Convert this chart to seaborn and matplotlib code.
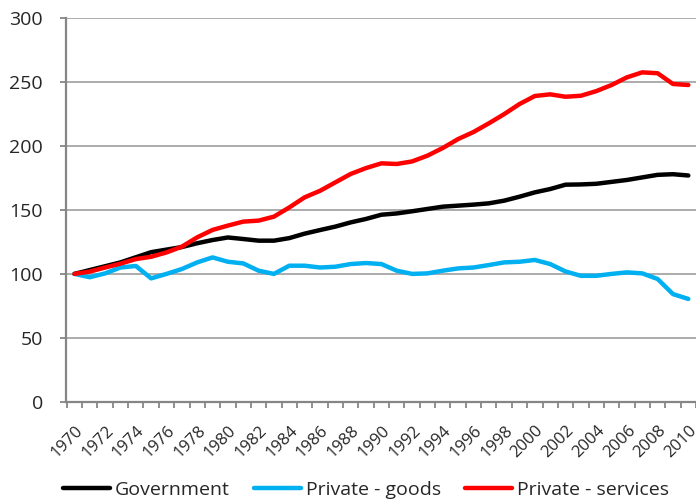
import numpy as np
import pandas as pd
import matplotlib
matplotlib.use('Agg')
import matplotlib.pyplot as plt
import matplotlib.transforms as mtransforms
import seaborn as sns

#-------------------
# data (index, 1970 = 100)
#-------------------

years = list(range(1970, 2011))

government = [100, 103, 106, 109, 113, 117, 119, 121, 124, 126.5,
              128.5, 127.3, 126, 126, 128, 131.5, 134.3, 137, 140.3, 143,
              146.3, 147.3, 149, 150.8, 152.6, 153.4, 154.2, 155.2, 157.3, 160.4,
              163.8, 166.4, 169.8, 170, 170.5, 172, 173.5, 175.5, 177.5, 178, 177]

private_goods = [100, 97.4, 100.4, 105, 106.2, 96.5, 100, 103.8, 109, 112.9,
                 109.5, 108.2, 102.5, 100, 106.4, 106.4, 105, 105.6, 107.7, 108.5,
                 107.7, 102.5, 100, 100.4, 102.5, 104.3, 105, 106.9, 109, 109.5,
                 110.9, 107.7, 101.9, 98.5, 98.5, 100, 101.2, 100.4, 96, 84.2, 80.4]

private_services = [100, 101.8, 105, 108, 111.6, 113.4, 116.8, 121.3, 128.6, 134.4,
                    137.8, 140.9, 141.7, 144.8, 152, 159.9, 165, 171.6, 178.2, 182.8,
                    186.5, 186, 188, 192.5, 198.5, 205.5, 211, 217.8, 225, 232.9,
                    239.2, 240.5, 238.6, 239.4, 243, 247.8, 253.8, 257.7, 257, 248.6, 247.8]

series_names = ['Government', 'Private - goods', 'Private - services']
series_colors = ['#000000', '#00b0f0', '#ff0000']

df = pd.DataFrame({
    'year': years * 3,
    'value': government + private_goods + private_services,
    'series': [series_names[0]] * len(years) + [series_names[1]] * len(years)
              + [series_names[2]] * len(years),
})

#-------------------
# plot
#-------------------

sns.set_style('white')
plt.rcParams['font.family'] = ['Open Sans', 'DejaVu Sans']
text_col = '#262626'
axis_col = '#868686'

fig = plt.figure(figsize=(6.96, 5.01), dpi=100)
ax = fig.add_axes([0.0948, 0.1982, 0.9052, 0.7653])

sns.lineplot(data=df, x='year', y='value', hue='series', hue_order=series_names,
             palette=series_colors, linewidth=3.2, ax=ax, legend=True)

ax.set_xlim(1969.45, 2010.2)
ax.set_ylim(0, 300)
ax.set_yticks(np.arange(0, 301, 50))
ax.grid(axis='y', color='#a6a6a6', linewidth=1.3)
ax.set_axisbelow(True)

ax.set_xlabel('')
ax.set_ylabel('')

for side in ['top', 'right']:
    ax.spines[side].set_visible(False)
for side in ['left', 'bottom']:
    ax.spines[side].set_color(axis_col)
    ax.spines[side].set_linewidth(1.6)

ax.tick_params(axis='y', direction='out', length=4.5, width=1.3, color=axis_col,
               labelsize=14, labelcolor=text_col, pad=12, left=True)

# year labels every two years, tick marks at category boundaries
ax.set_xticks(years[::2])
ax.set_xticks(np.arange(1969.5, 2011, 1), minor=True)
ax.tick_params(axis='x', which='major', length=0, labelsize=12,
               labelcolor=text_col, pad=2)
ax.tick_params(axis='x', which='minor', direction='out', length=4.5, width=1.3,
               color=axis_col, bottom=True)
offset = mtransforms.ScaledTranslation(6 / 100, -24 / 100, fig.dpi_scale_trans)
for lab in ax.get_xticklabels():
    lab.set_rotation(45)
    lab.set_ha('right')
    lab.set_va('center')
    lab.set_rotation_mode('anchor')
    lab.set_transform(lab.get_transform() + offset)

handles, labels = ax.get_legend_handles_labels()
ax.get_legend().remove()
leg = fig.legend(handles, labels, loc='center', bbox_to_anchor=(0.526, 0.022),
                 ncol=3, frameon=False, fontsize=14, handlelength=2.4,
                 handletextpad=0.25, columnspacing=1.25)
for t in leg.get_texts():
    t.set_color(text_col)
for h in leg.get_lines():
    h.set_linewidth(3.2)

fig.savefig('out.png', dpi=100)
